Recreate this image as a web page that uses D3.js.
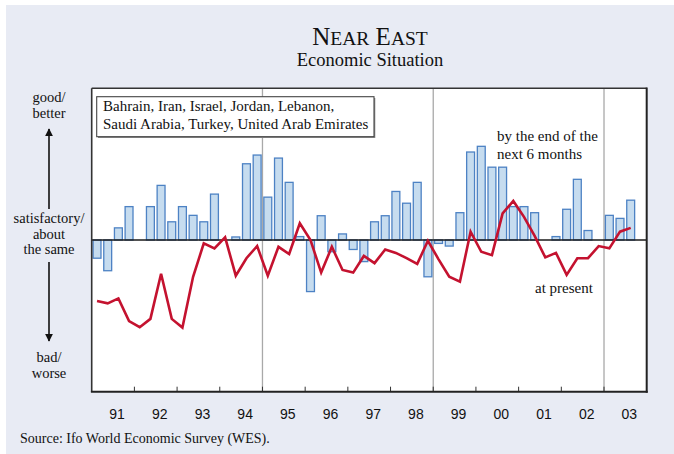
<!DOCTYPE html>
<html>
<head>
<meta charset="utf-8">
<script src="https://cdn.jsdelivr.net/npm/d3@7/dist/d3.min.js"></script>
<style>
  html, body { margin: 0; padding: 0; background: #ffffff; }
  svg { display: block; }
</style>
</head>
<body>
<svg id="chart" width="674" height="454"></svg>
<script>
// ---- Data (Ifo WES, Near East; 1-9 scale, 5 = satisfactory) ----
const years = ["91","92","93","94","95","96","97","98","99","00","01","02","03"];
const quartersPerYear = ["Q1","Q2","Q3","Q4"];
const markerYears = ["95","99","03"];

// Expectations by the end of the next 6 months (bars), 1991Q1 .. 2003Q3
const expectations = [
  4.52, 4.19, 5.32, 5.88,
  5.00, 5.88, 6.44, 5.48,
  5.88, 5.65, 5.48, 6.21,
  5.00, 5.08, 7.01, 7.24,
  6.13, 7.16, 6.52, 5.09,
  3.64, 5.64, 4.69, 5.16,
  4.75, 4.43, 5.48, 5.64,
  6.28, 5.97, 6.52, 4.03,
  4.91, 4.84, 5.72, 7.32,
  7.47, 6.92, 6.92, 5.88,
  5.88, 5.72, 5.00, 5.09,
  5.81, 6.60, 5.25, 5.00,
  5.65, 5.57, 6.05
];

// Present economic situation (line), 1991Q1 .. 2003Q3
const present = [
  3.39, 3.33, 3.46, 2.86,
  2.70, 2.92, 4.11, 2.92,
  2.69, 4.03, 4.91, 4.78,
  5.07, 4.06, 4.52, 4.84,
  4.06, 4.82, 4.63, 5.44,
  5.00, 4.14, 4.82, 4.21,
  4.14, 4.58, 4.39, 4.75,
  4.66, 4.52, 4.37, 4.98,
  4.49, 4.03, 3.90, 5.22,
  4.69, 4.60, 5.70, 6.03,
  5.61, 5.11, 4.54, 4.66,
  4.08, 4.52, 4.52, 4.84,
  4.78, 5.22, 5.32
];

const baseline = 5;
const yDomain = [1, 9];

const titleParts = [["N", true], ["EAR", false], [" ", true], ["E", true], ["AST", false]];
const subtitle = "Economic Situation";
const legendLines = ["Bahrain, Iran, Israel, Jordan, Lebanon,", "Saudi Arabia, Turkey, United Arab Emirates"];
const seriesLabels = { expectations: ["by the end of the", "next 6 months"], present: ["at present"] };
const sideTop = ["good/", "better"];
const sideMid = ["satisfactory/", "about", "the same"];
const sideBot = ["bad/", "worse"];
const sourceText = "Source: Ifo World Economic Survey (WES).";

// categories: every quarter of every year shown
const periods = [];
years.forEach(y => quartersPerYear.forEach(q => periods.push(y + q)));

// ---- Layout ----
const W = 674, H = 454;
const plot = { left: 91.7, right: 646.7, top: 88.3, bottom: 391.7 };
const serif = "'Liberation Serif', 'Times New Roman', serif";
const sans = "'Liberation Sans', Arial, sans-serif";

const svg = d3.select("#chart");

svg.append("rect").attr("x", 6).attr("y", 5).attr("width", W - 6).attr("height", H - 5)
  .attr("fill", "#e8ebf4");

const x = d3.scaleBand().domain(periods).range([plot.left, plot.right])
  .paddingInner(0.26).paddingOuter(0.13);
const xYear = d3.scaleBand().domain(years).range([plot.left, plot.right]);
const y = d3.scaleLinear().domain(yDomain).range([plot.bottom, plot.top]);

// plot background
svg.append("rect").attr("x", plot.left).attr("y", plot.top)
  .attr("width", plot.right - plot.left).attr("height", plot.bottom - plot.top)
  .attr("fill", "#ffffff");

// grey separators
svg.append("g").selectAll("line").data(markerYears).join("line")
  .attr("x1", d => xYear(d)).attr("x2", d => xYear(d))
  .attr("y1", plot.top).attr("y2", plot.bottom)
  .attr("stroke", "#a9a9a9").attr("stroke-width", 1.3);

// bars
const barData = expectations.map((v, i) => ({ p: periods[i], v }));
svg.append("g").selectAll("rect").data(barData.filter(d => d.v !== baseline)).join("rect")
  .attr("x", d => x(d.p))
  .attr("width", x.bandwidth())
  .attr("y", d => Math.min(y(d.v), y(baseline)))
  .attr("height", d => Math.abs(y(d.v) - y(baseline)))
  .attr("fill", "#c6dcef")
  .attr("stroke", "#4d82c4")
  .attr("stroke-width", 1.3);

// zero line
svg.append("line").attr("x1", plot.left).attr("x2", plot.right)
  .attr("y1", y(baseline)).attr("y2", y(baseline))
  .attr("stroke", "#1a1a1a").attr("stroke-width", 1.4);

// present line
const line = d3.line()
  .x((d, i) => x(periods[i]) + x.bandwidth() / 2)
  .y(d => y(d));
svg.append("path").datum(present)
  .attr("d", line)
  .attr("fill", "none")
  .attr("stroke", "#c4122f")
  .attr("stroke-width", 2.6)
  .attr("stroke-linejoin", "miter");

// frame
svg.append("line").attr("x1", plot.left).attr("x2", plot.right).attr("y1", plot.top).attr("y2", plot.top)
  .attr("stroke", "#333").attr("stroke-width", 1.4);
svg.append("line").attr("x1", plot.left).attr("x2", plot.left).attr("y1", plot.top).attr("y2", plot.bottom)
  .attr("stroke", "#333").attr("stroke-width", 1.6);
svg.append("line").attr("x1", plot.right).attr("x2", plot.right).attr("y1", plot.top - 0.7).attr("y2", plot.bottom + 1)
  .attr("stroke", "#222").attr("stroke-width", 2);

// bottom axis with year ticks (at year boundaries) and centered labels
const xAxis = d3.axisBottom(xYear).tickSize(0).tickPadding(17).tickFormat(d => d);
const axG = svg.append("g").attr("transform", `translate(0,${plot.bottom})`).call(xAxis);
axG.select(".domain").remove();
axG.selectAll("text").attr("font-family", sans).attr("font-size", 14).attr("fill", "#111")
  .attr("dx", 4);
svg.append("g").selectAll("line").data(years.slice(1)).join("line")
  .attr("x1", d => xYear(d)).attr("x2", d => xYear(d))
  .attr("y1", plot.bottom).attr("y2", plot.bottom - 5)
  .attr("stroke", "#333").attr("stroke-width", 1);
svg.append("line").attr("x1", plot.left - 0.8).attr("x2", plot.right + 1)
  .attr("y1", plot.bottom).attr("y2", plot.bottom)
  .attr("stroke", "#222").attr("stroke-width", 2);

// title
const title = svg.append("text").attr("x", 370).attr("y", 45).attr("text-anchor", "middle")
  .attr("font-family", serif).attr("fill", "#111");
titleParts.forEach(([t, big]) => title.append("tspan").attr("font-size", big ? 25 : 19.5).text(t));
svg.append("text").attr("x", 370).attr("y", 66).attr("text-anchor", "middle")
  .attr("font-family", serif).attr("font-size", 18.5).attr("fill", "#111").text(subtitle);

// legend box
svg.append("rect").attr("x", 98).attr("y", 98).attr("width", 277.3).attr("height", 40)
  .attr("fill", "#8a8a8a");
svg.append("rect").attr("x", 96.7).attr("y", 96.7).attr("width", 277.3).attr("height", 40)
  .attr("fill", "#ffffff").attr("stroke", "#444").attr("stroke-width", 1.1);
svg.append("g").selectAll("text").data(legendLines).join("text")
  .attr("x", 103).attr("y", (d, i) => 111 + i * 18)
  .attr("font-family", serif).attr("font-size", 15).attr("fill", "#111").text(d => d);

// series labels
svg.append("g").selectAll("text").data(seriesLabels.expectations).join("text")
  .attr("x", 497).attr("y", (d, i) => 141 + i * 18)
  .attr("font-family", serif).attr("font-size", 15).attr("fill", "#111").text(d => d);
svg.append("text").attr("x", 535).attr("y", 293)
  .attr("font-family", serif).attr("font-size", 15).attr("fill", "#111").text(seriesLabels.present[0]);

// side labels and arrows
const sideX = 49;
function sideText(lines, y0) {
  svg.append("g").selectAll("text").data(lines).join("text")
    .attr("x", sideX).attr("y", (d, i) => y0 + i * 15.5).attr("text-anchor", "middle")
    .attr("font-family", serif).attr("font-size", 14.5).attr("fill", "#111").text(d => d);
}
sideText(sideTop, 102);
sideText(sideMid, 223);
sideText(sideBot, 362);

const defs = svg.append("defs");
defs.append("marker").attr("id", "ah").attr("viewBox", "0 0 10 10").attr("refX", 9).attr("refY", 5)
  .attr("markerWidth", 5).attr("markerHeight", 5).attr("markerUnits", "strokeWidth").attr("orient", "auto")
  .append("path").attr("d", "M0,0 L10,5 L0,10 Z").attr("fill", "#111");
svg.append("line").attr("x1", sideX).attr("x2", sideX).attr("y1", 209).attr("y2", 129)
  .attr("stroke", "#111").attr("stroke-width", 1.6).attr("marker-end", "url(#ah)");
svg.append("line").attr("x1", sideX).attr("x2", sideX).attr("y1", 262).attr("y2", 341)
  .attr("stroke", "#111").attr("stroke-width", 1.6).attr("marker-end", "url(#ah)");

// source
svg.append("text").attr("x", 20).attr("y", 443)
  .attr("font-family", serif).attr("font-size", 14).attr("fill", "#111").text(sourceText);
</script>
</body>
</html>
